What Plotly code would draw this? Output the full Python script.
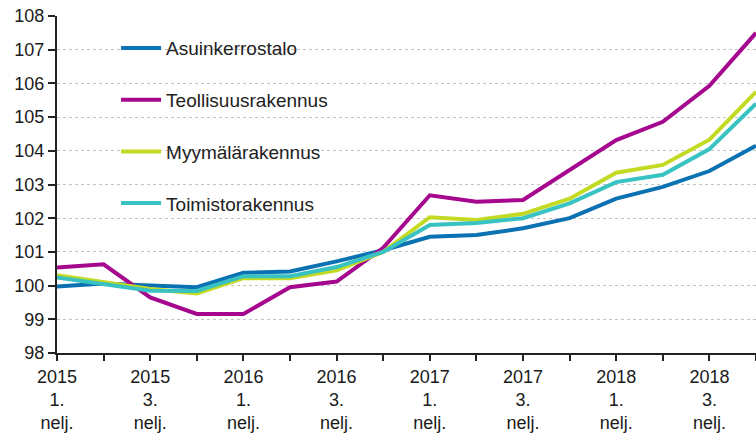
import plotly.graph_objects as go

quarters = ["2015 Q1", "2015 Q2", "2015 Q3", "2015 Q4",
            "2016 Q1", "2016 Q2", "2016 Q3", "2016 Q4",
            "2017 Q1", "2017 Q2", "2017 Q3", "2017 Q4",
            "2018 Q1", "2018 Q2", "2018 Q3", "2018 Q4"]
tick_labels = ["2015<br>1.<br>nelj.", "", "2015<br>3.<br>nelj.", "",
               "2016<br>1.<br>nelj.", "", "2016<br>3.<br>nelj.", "",
               "2017<br>1.<br>nelj.", "", "2017<br>3.<br>nelj.", "",
               "2018<br>1.<br>nelj.", "", "2018<br>3.<br>nelj.", ""]

asuinkerrostalo = [99.97, 100.06, 100.0, 99.95, 100.38, 100.42, 100.72, 101.05,
                   101.45, 101.5, 101.7, 102.0, 102.58, 102.93, 103.4, 104.15]
teollisuusrakennus = [100.54, 100.63, 99.65, 99.16, 99.16, 99.95, 100.12, 101.12,
                      102.68, 102.49, 102.54, 103.42, 104.32, 104.86, 105.93, 107.5]
myymalarakennus = [100.31, 100.12, 99.9, 99.77, 100.22, 100.22, 100.45, 101.0,
                   102.03, 101.95, 102.13, 102.58, 103.35, 103.58, 104.33, 105.75]
toimistorakennus = [100.24, 100.05, 99.85, 99.84, 100.28, 100.28, 100.55, 101.0,
                    101.8, 101.86, 102.0, 102.44, 103.07, 103.29, 104.05, 105.4]

series = [
    ("Asuinkerrostalo", asuinkerrostalo, "#0a72b2"),
    ("Teollisuusrakennus", teollisuusrakennus, "#a5088e"),
    ("Myymälärakennus", myymalarakennus, "#c3da24"),
    ("Toimistorakennus", toimistorakennus, "#38c2c2"),
]

x_idx = list(range(len(quarters)))

fig = go.Figure()
for i, (name, vals, col) in enumerate(series):
    fig.add_trace(go.Scatter(
        x=x_idx, y=vals, name=name, mode="lines",
        line=dict(color=col, width=4),
        legendgroup=f"g{i}",
        hovertext=[f"{q}: {v}" for q, v in zip(quarters, vals)],
        cliponaxis=False,
    ))

font_family = "Liberation Sans, Arial, sans-serif"

fig.update_layout(
    width=756, height=436,
    margin=dict(l=57, r=0, t=16, b=83, autoexpand=False),
    paper_bgcolor="white", plot_bgcolor="white",
    font=dict(family=font_family, size=18, color="#222222"),
    showlegend=True,
    legend=dict(
        x=0.0845, y=0.961, xanchor="left", yanchor="top",
        bgcolor="rgba(0,0,0,0)",
        font=dict(size=19, color="#222222"),
        tracegroupgap=24,
        traceorder="grouped",
        itemwidth=40,
    ),
    xaxis=dict(
        range=[0, 15], automargin=False,
        tickmode="array", tickvals=x_idx, ticktext=tick_labels,
        ticks="outside", ticklen=6, tickwidth=1.5, tickcolor="#222222",
        showline=True, linecolor="#222222", linewidth=2,
        showgrid=False, zeroline=False,
        tickfont=dict(size=18, color="#1a1a1a"),
        tickangle=0,
    ),
    yaxis=dict(
        range=[98, 108], dtick=1, tick0=98, automargin=False,
        ticks="outside", ticklen=7, tickwidth=1.5, tickcolor="#222222",
        showline=True, linecolor="#222222", linewidth=2,
        showgrid=True, gridcolor="#c4c4c4", gridwidth=1, griddash="dot",
        zeroline=False,
        tickfont=dict(size=18, color="#1a1a1a"),
    ),
)

fig.write_html(
    "out.html",
    config={"displayModeBar": False},
    post_script="document.body.style.margin='0';document.body.style.padding='0';",
)
